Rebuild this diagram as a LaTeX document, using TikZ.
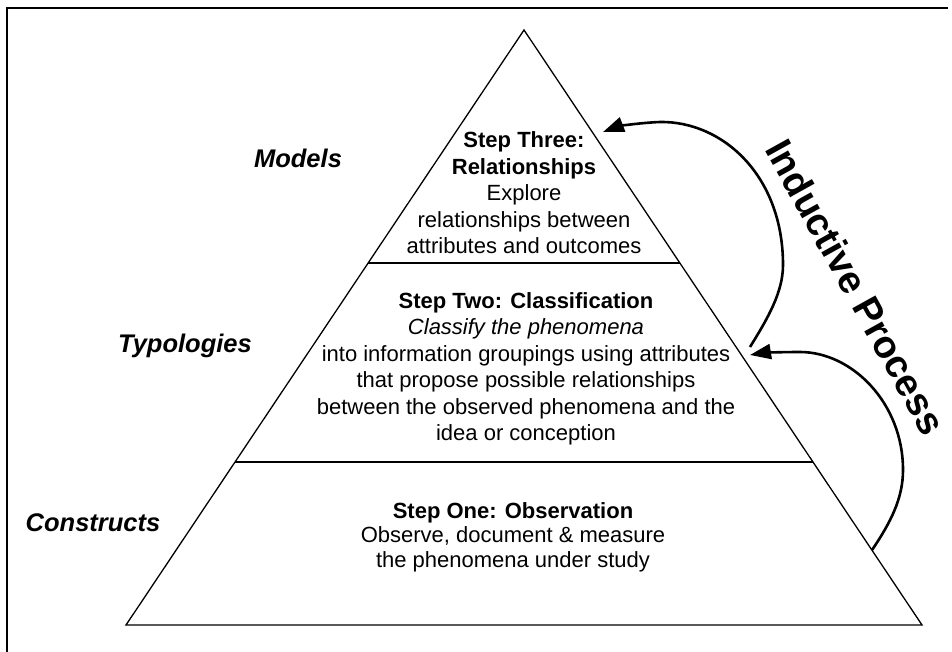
\documentclass[tikz,border=0pt]{standalone}
\usepackage{fontspec}
\setmainfont{Liberation Sans}
\usetikzlibrary{arrows.meta,calc}
\begin{document}
\begin{tikzpicture}[x=1pt,y=-1pt,
  edge/.style={line width=1.3pt, line join=miter},
  band/.style={line width=1.6pt},
  frameline/.style={line width=1.8pt},
  level/.style={font=\fontsize{25.5}{30}\selectfont\bfseries\itshape, inner sep=0pt},
  stepbox/.style={align=center, inner sep=0pt, font=\fontsize{22}{26.5}\selectfont},
  loop/.style={line width=2.6pt, -{Triangle[length=21pt,width=15pt]}},
  title/.style={font=\fontsize{38.5}{40}\selectfont\bfseries, rotate=-61, inner sep=0pt}]
\useasboundingbox (0,0) rectangle (952,652);
\fill[white] (0,0) rectangle (952,652);

% outer frame (top and left sides)
\coordinate (fbl) at (7,652);
\coordinate (ftl) at (7,8);
\coordinate (ftr) at (948,8);
\draw[frameline] (fbl) -- (ftl) -- (ftr);

% pyramid
\coordinate (apex) at (524,30);
\coordinate (bl) at (126,625);
\coordinate (br) at (922,625);
\draw[edge] (apex) -- (bl) -- (br) -- cycle;

% dividing lines between the three tiers
\coordinate (upL) at ($(apex)!0.3916!(bl)$);
\coordinate (upR) at ($(apex)!0.3916!(br)$);
\coordinate (loL) at ($(apex)!0.7261!(bl)$);
\coordinate (loR) at ($(apex)!0.7261!(br)$);
\draw[band] (upL) -- (upR);
\draw[band] (loL) -- (loR);

% tier texts
\node[stepbox] (three) at (524,193) {\textbf{Step Three:}\\\textbf{Relationships}\\Explore\\relationships between\\attributes and outcomes};
\node[stepbox] (two) at (526,369) {\textbf{Step Two: Classification}\\\textit{Classify the phenomena}\\into information groupings using attributes\\that propose possible relationships\\between the observed phenomena and the\\idea or conception};
\node[stepbox, font=\fontsize{22}{24.5}\selectfont] (one) at (513,537) {\textbf{Step One: Observation}\\Observe, document \& measure\\the phenomena under study};

% level names
\node[level] (models) at (298,158) {Models};
\node[level] (typol) at (185,346) {Typologies};
\node[level] (constr) at (93,523) {Constructs};

% inductive arrows
\coordinate (a1s) at (750,347);
\coordinate (a1m) at (783,265);
\coordinate (a1t) at (660,122);
\coordinate (a1e) at (603,132);
\draw[loop] (a1s) .. controls (768,318) and (783,292) .. (a1m)
  .. controls (783,175) and (722,121) .. (a1t)
  .. controls (636,123) and (616,127) .. (a1e);

\coordinate (a2s) at (872,550);
\coordinate (a2m) at (903,470);
\coordinate (a2t) at (800,352);
\coordinate (a2e) at (750,355);
\draw[loop] (a2s) .. controls (891,522) and (903,498) .. (a2m)
  .. controls (903,403) and (852,352) .. (a2t)
  .. controls (780,352) and (762,353) .. (a2e);

\node[title] (ind) at (856,287) {Inductive Process};
\end{tikzpicture}
\end{document}
